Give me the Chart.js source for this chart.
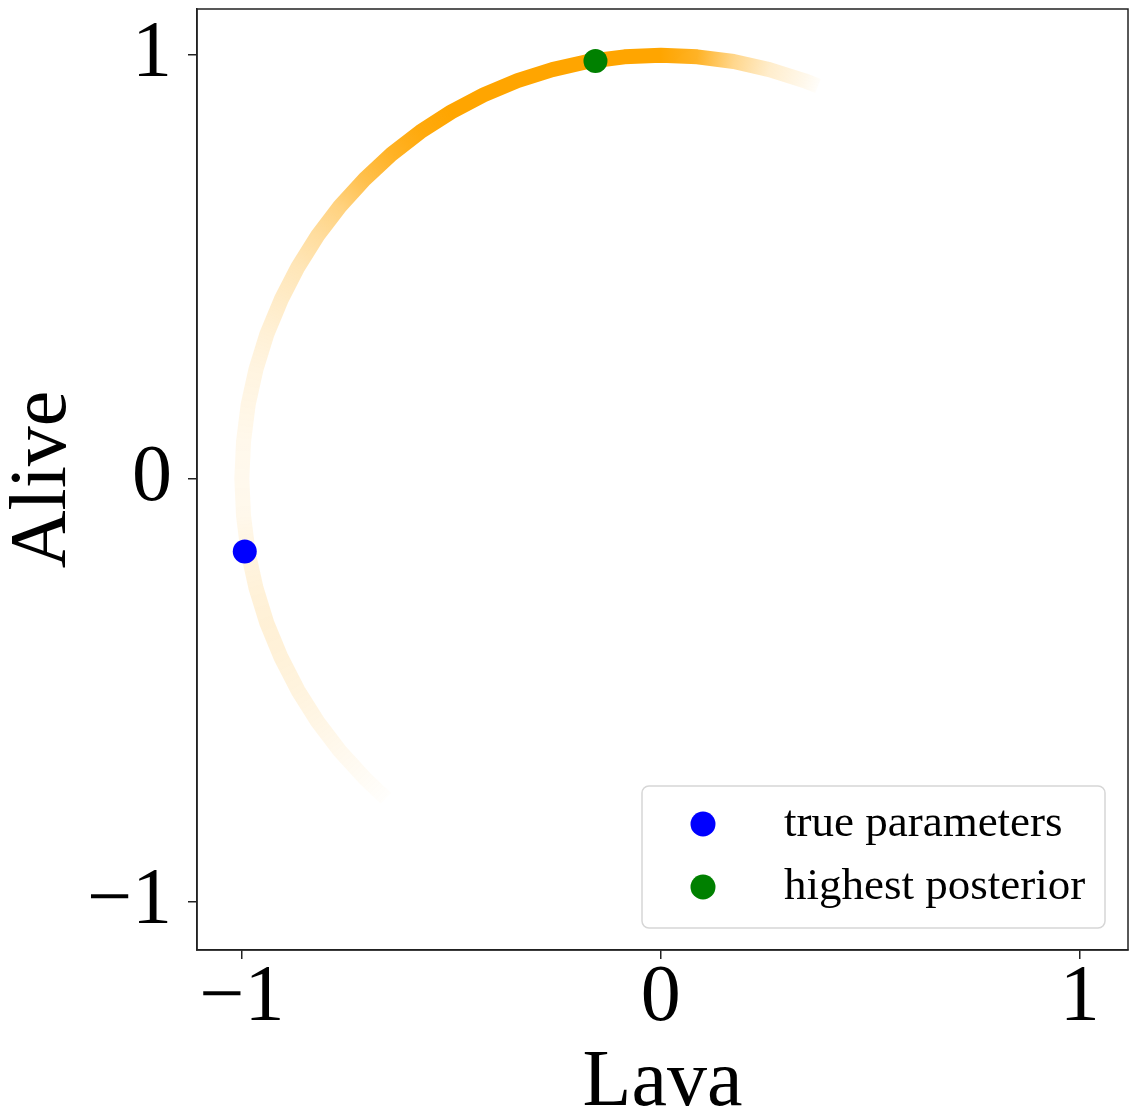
<!DOCTYPE html>
<html>
<head>
<meta charset="utf-8">
<script src="https://cdn.jsdelivr.net/npm/chart.js@4/dist/chart.umd.min.js"></script>
<style>
  html, body { margin: 0; padding: 0; background: #fff; }
  #wrap { width: 1134px; height: 1118px; }
</style>
</head>
<body>
<div id="wrap"><canvas id="chart" width="1134" height="1118"></canvas></div>
<script>
// posterior samples along the arc, with their opacity
let arcX = [0.375, 0.342, 0.259, 0.174, 0.087, 0.000, -0.087, -0.174, -0.259, -0.342,
    -0.423, -0.500, -0.574, -0.643, -0.707, -0.766, -0.819, -0.866, -0.906, -0.940,
    -0.966, -0.985, -0.996, -1.000, -0.996, -0.985, -0.966, -0.940, -0.906, -0.866,
    -0.819, -0.766, -0.707, -0.656];
let arcY = [0.927, 0.940, 0.966, 0.985, 0.996, 1.000, 0.996, 0.985, 0.966, 0.940,
    0.906, 0.866, 0.819, 0.766, 0.707, 0.643, 0.574, 0.500, 0.423, 0.342,
    0.259, 0.174, 0.087, 0.000, -0.087, -0.174, -0.259, -0.342, -0.423, -0.500,
    -0.574, -0.643, -0.707, -0.755];
let arcAlpha = [0.02, 0.08, 0.2, 0.45, 0.85, 1, 1, 1, 1, 1,
    1, 1, 0.95, 0.85, 0.7, 0.5, 0.38, 0.28, 0.22, 0.16,
    0.12, 0.1, 0.08, 0.07, 0.08, 0.12, 0.15, 0.16, 0.15, 0.13,
    0.1, 0.07, 0.04, 0.01];

let trueParams = [{ x: -0.993, y: -0.172 }];
let bestPosterior = [{ x: -0.156, y: 0.986 }];

let tickValues = [-1, 0, 1];
let xTitle = 'Lava';
let yTitle = 'Alive';

let arcPoints = [];
for (let i = 0; i < arcX.length; i++) {
    arcPoints.push({ x: arcX[i], y: arcY[i] });
}

const serif = "'Liberation Serif', 'Times New Roman', serif";

function fmtTick(v) {
    return v < 0 ? '\u2212' + Math.abs(v) : String(v);
}

// smooth opacity along the arc: conic gradient around the origin pixel
function arcColor(context) {
    const chart = context.chart;
    const xs = chart.scales.x, ys = chart.scales.y;
    if (!chart.chartArea || !xs || !ys) return 'rgba(255,165,0,0.5)';
    const cx = xs.getPixelForValue(0), cy = ys.getPixelForValue(0);
    const g = chart.ctx.createConicGradient(0, cx, cy);
    for (let i = 0; i < arcX.length; i++) {
        let a = Math.atan2(ys.getPixelForValue(arcY[i]) - cy, xs.getPixelForValue(arcX[i]) - cx);
        if (a < 0) a += Math.PI * 2;
        g.addColorStop(a / (Math.PI * 2), 'rgba(255,165,0,' + arcAlpha[i] + ')');
    }
    return g;
}

// box around the plot + legend inside bottom right
const framePlugin = {
    id: 'frame',
    afterDatasetsDraw(chart) {
        const { ctx, chartArea: a } = chart;
        ctx.save();
        ctx.strokeStyle = '#222';
        ctx.lineWidth = 1.5;
        ctx.strokeRect(a.left, a.top, a.right - a.left, a.bottom - a.top);

        // legend
        const w = 463, h = 142;
        const bx = a.right - 23 - w, by = a.bottom - 22 - h;
        ctx.fillStyle = 'rgba(255,255,255,0.8)';
        ctx.strokeStyle = '#d6d6d6';
        ctx.lineWidth = 1.5;
        ctx.beginPath();
        ctx.roundRect(bx, by, w, h, 7);
        ctx.fill();
        ctx.stroke();

        const items = chart.data.datasets.filter(d => d.inLegend);
        items.forEach((d, i) => {
            const cy = by + 38 + i * 63;
            ctx.fillStyle = d.backgroundColor;
            ctx.beginPath();
            ctx.arc(bx + 61, cy, 12.5, 0, Math.PI * 2);
            ctx.fill();
            ctx.fillStyle = '#000';
            ctx.font = '45px ' + serif;
            ctx.textBaseline = 'middle';
            ctx.textAlign = 'left';
            ctx.fillText(d.label, bx + 142, cy);
        });
        ctx.restore();
    }
};

new Chart(document.getElementById('chart'), {
    type: 'scatter',
    data: {
        datasets: [{
            label: 'true parameters',
            data: trueParams,
            backgroundColor: 'blue',
            borderWidth: 0,
            pointRadius: 12,
            inLegend: true,
            order: 1
        }, {
            label: 'highest posterior',
            data: bestPosterior,
            backgroundColor: 'green',
            borderWidth: 0,
            pointRadius: 12,
            inLegend: true,
            order: 2
        }, {
            label: 'posterior',
            data: arcPoints,
            showLine: true,
            pointRadius: 0,
            borderWidth: 15,
            borderCapStyle: 'butt',
            borderJoinStyle: 'round',
            borderColor: arcColor,
            order: 3
        }]
    },
    options: {
        responsive: false,
        animation: false,
        devicePixelRatio: 1,
        layout: { autoPadding: false, padding: { left: 0, top: 9, right: 6, bottom: 0 } },
        plugins: {
            legend: { display: false },
            tooltip: { enabled: false }
        },
        scales: {
            x: {
                type: 'linear',
                min: -1.107,
                max: 1.115,
                afterBuildTicks: s => { s.ticks = tickValues.map(v => ({ value: v })); },
                afterFit: s => { s.height = 168; s.paddingLeft = 0; s.paddingRight = 0; },
                grid: { drawOnChartArea: false, drawTicks: true, tickLength: 9, color: '#222', lineWidth: 1.5 },
                border: { display: true, color: '#222', width: 1.5 },
                ticks: {
                    color: '#000',
                    padding: -8,
                    font: { family: serif, size: 80 },
                    callback: v => fmtTick(v)
                },
                title: {
                    display: true,
                    text: xTitle,
                    color: '#000',
                    font: { family: serif, size: 80, lineHeight: 1 },
                    padding: { top: 0, bottom: -6 }
                }
            },
            y: {
                type: 'linear',
                min: -1.113,
                max: 1.109,
                afterBuildTicks: s => { s.ticks = tickValues.map(v => ({ value: v })); },
                afterFit: s => { s.width = 197; s.paddingTop = 0; s.paddingBottom = 0; },
                grid: { drawOnChartArea: false, drawTicks: true, tickLength: 9, color: '#222', lineWidth: 1.5 },
                border: { display: true, color: '#222', width: 1.5 },
                ticks: {
                    color: '#000',
                    padding: 16,
                    font: { family: serif, size: 80 },
                    callback: v => fmtTick(v)
                },
                title: {
                    display: true,
                    text: yTitle,
                    color: '#000',
                    font: { family: serif, size: 80, lineHeight: 1 },
                    padding: { top: 4, bottom: 0 }
                }
            }
        }
    },
    plugins: [framePlugin]
});
</script>
</body>
</html>
